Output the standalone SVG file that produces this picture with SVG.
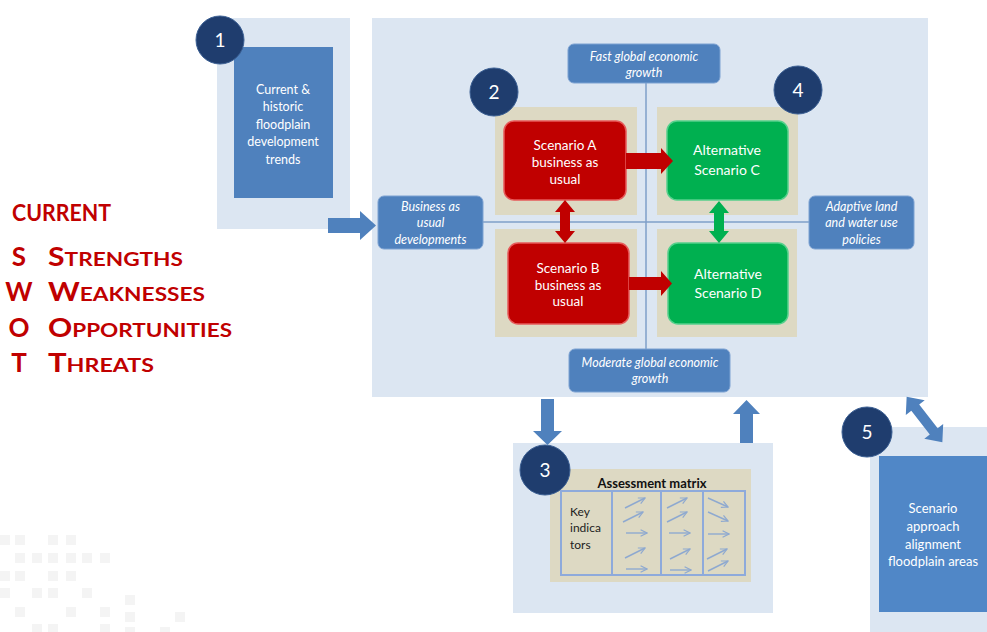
<svg xmlns="http://www.w3.org/2000/svg" width="987" height="632" viewBox="0 0 987 632">
<defs>
<style>
.panel{fill:#dce6f2}
.dark{fill:#4f81bd}
.lbl{fill:#4f81bd;stroke:#7da2d2;stroke-width:1}
.badge{fill:#1f3d6e;stroke:#3b5f93;stroke-width:1}
.beige{fill:#ddd9c3}
.red{fill:#c00000;stroke:#e65a5a;stroke-width:1.5}
.green{fill:#00b050;stroke:#55d08c;stroke-width:1.5}
.t{font-family:Lato,"Liberation Sans",sans-serif;fill:#ffffff;text-anchor:middle}
.it{font-style:italic;font-size:12.5px}
.num{font-size:19px}
.sw{font-family:Lato,"Liberation Sans",sans-serif;font-weight:bold;fill:#c00000}
.blk{fill:#4f81bd}
.ra{fill:#c00000}
.ga{fill:#00b050}
.axis{stroke:#7f9fc8;stroke-width:1.5;fill:none}
.grid{fill:none;stroke:#8eaadb;stroke-width:2}
.ma{fill:none;stroke:#8ea9d0;stroke-width:1.4;marker-end:url(#oh)}
.wm{fill:#f4f4f4}
</style>
<marker id="oh" viewBox="0 0 10 10" refX="9" refY="5" markerWidth="8" markerHeight="8" markerUnits="userSpaceOnUse" orient="auto">
<path d="M1,1 L9,5 L1,9" fill="none" stroke="#8ea9d0" stroke-width="1.5"/>
</marker>
</defs>
<rect width="987" height="632" fill="#ffffff"/>

<g id="watermark">
<rect class="wm" x="0" y="535" width="10" height="10"/><rect class="wm" x="15" y="535" width="10" height="10"/><rect class="wm" x="48" y="535" width="10" height="10"/><rect class="wm" x="66" y="535" width="10" height="10"/>
<rect class="wm" x="15" y="553" width="10" height="10"/><rect class="wm" x="32" y="553" width="10" height="10"/><rect class="wm" x="48" y="553" width="10" height="10"/><rect class="wm" x="66" y="553" width="10" height="10"/><rect class="wm" x="82" y="553" width="10" height="10"/><rect class="wm" x="100" y="553" width="10" height="10"/>
<rect class="wm" x="0" y="571" width="10" height="10"/><rect class="wm" x="15" y="571" width="10" height="10"/><rect class="wm" x="48" y="571" width="10" height="10"/><rect class="wm" x="66" y="571" width="10" height="10"/>
<rect class="wm" x="0" y="588" width="10" height="10"/><rect class="wm" x="32" y="588" width="10" height="10"/><rect class="wm" x="48" y="588" width="10" height="10"/><rect class="wm" x="82" y="588" width="10" height="10"/><rect class="wm" x="125" y="595" width="10" height="10"/>
<rect class="wm" x="15" y="607" width="10" height="10"/><rect class="wm" x="66" y="607" width="10" height="10"/><rect class="wm" x="100" y="607" width="10" height="10"/><rect class="wm" x="125" y="612" width="10" height="10"/><rect class="wm" x="175" y="612" width="10" height="10"/>
<rect class="wm" x="32" y="624" width="10" height="8"/><rect class="wm" x="48" y="624" width="10" height="8"/><rect class="wm" x="100" y="624" width="10" height="8"/><rect class="wm" x="125" y="627" width="10" height="5"/><rect class="wm" x="160" y="627" width="10" height="5"/>
</g>

<g id="swot">
<text class="sw" x="12" y="221" font-size="22" textLength="99" lengthAdjust="spacingAndGlyphs">CURRENT</text>
<text class="sw" x="19" y="266" font-size="26" text-anchor="middle">S</text>
<text class="sw" x="48" y="266" textLength="135" lengthAdjust="spacingAndGlyphs"><tspan font-size="26">S</tspan><tspan font-size="19.5">TRENGTHS</tspan></text>
<text class="sw" x="19" y="301" font-size="26" text-anchor="middle">W</text>
<text class="sw" x="48" y="301" textLength="157" lengthAdjust="spacingAndGlyphs"><tspan font-size="26">W</tspan><tspan font-size="19.5">EAKNESSES</tspan></text>
<text class="sw" x="19" y="337" font-size="26" text-anchor="middle">O</text>
<text class="sw" x="48" y="337" textLength="184" lengthAdjust="spacingAndGlyphs"><tspan font-size="26">O</tspan><tspan font-size="19.5">PPORTUNITIES</tspan></text>
<text class="sw" x="19" y="372" font-size="26" text-anchor="middle">T</text>
<text class="sw" x="48" y="372" textLength="106" lengthAdjust="spacingAndGlyphs"><tspan font-size="26">T</tspan><tspan font-size="19.5">HREATS</tspan></text>
</g>

<g id="box1">
<rect class="panel" x="217" y="18" width="133" height="211"/>
<rect class="dark" x="234" y="47" width="99" height="151"/>
<text class="t" font-size="12.5"><tspan x="283" y="93.5">Current &amp;</tspan><tspan x="283" y="111">historic</tspan><tspan x="283" y="128.5">floodplain</tspan><tspan x="283" y="146">development</tspan><tspan x="283" y="163.5">trends</tspan></text>
<circle class="badge" cx="220" cy="40" r="24"/>
<text class="t num" x="220" y="47">1</text>
</g>

<g id="main">
<rect class="panel" x="372" y="18" width="556" height="379"/>
</g>

<g id="axes">
<line class="axis" x1="646" y1="83" x2="646" y2="349"/>
<line class="axis" x1="483" y1="222" x2="809" y2="222"/>
</g>

<g id="quadrants">
<rect class="beige" x="495" y="107" width="142" height="108"/>
<rect class="beige" x="657" y="107" width="141" height="108"/>
<rect class="beige" x="495" y="229" width="142" height="108"/>
<rect class="beige" x="657" y="229" width="140" height="108"/>
</g>

<g id="label-fast">
<rect class="lbl" x="568" y="44" width="152" height="39" rx="6"/>
<text class="t it"><tspan x="644" y="61">Fast global economic</tspan><tspan x="644" y="77">growth</tspan></text>
</g>
<g id="label-bau">
<rect class="lbl" x="378" y="196" width="105" height="53" rx="6"/>
<text class="t it"><tspan x="430.5" y="211">Business as</tspan><tspan x="430.5" y="227">usual</tspan><tspan x="430.5" y="244">developments</tspan></text>
</g>
<g id="label-adaptive">
<rect class="lbl" x="809" y="196" width="105" height="53" rx="6"/>
<text class="t it"><tspan x="861.5" y="211">Adaptive land</tspan><tspan x="861.5" y="227">and water use</tspan><tspan x="861.5" y="244">policies</tspan></text>
</g>
<g id="label-moderate">
<rect class="lbl" x="569" y="349" width="161" height="43" rx="6"/>
<text class="t it"><tspan x="650" y="367">Moderate global economic</tspan><tspan x="650" y="383">growth</tspan></text>
</g>

<g id="scenarioA">
<rect class="red" x="504" y="121" width="122" height="79" rx="10"/>
<text class="t" font-size="13.5"><tspan x="565" y="150">Scenario A</tspan><tspan x="565" y="167">business as</tspan><tspan x="565" y="184">usual</tspan></text>
</g>
<g id="scenarioC">
<rect class="green" x="667" y="121" width="121" height="79" rx="10"/>
<text class="t" font-size="14"><tspan x="727" y="155">Alternative</tspan><tspan x="727" y="175">Scenario C</tspan></text>
</g>
<g id="scenarioB">
<rect class="red" x="508" y="243" width="121" height="81" rx="10"/>
<text class="t" font-size="13.5"><tspan x="568" y="273">Scenario B</tspan><tspan x="568" y="290">business as</tspan><tspan x="568" y="306">usual</tspan></text>
</g>
<g id="scenarioD">
<rect class="green" x="668" y="243" width="120" height="81" rx="10"/>
<text class="t" font-size="14"><tspan x="728" y="279">Alternative</tspan><tspan x="728" y="298">Scenario D</tspan></text>
</g>
<g id="badge2">
<circle class="badge" cx="494" cy="92" r="24"/>
<text class="t num" x="494" y="99">2</text>
</g>
<g id="badge4">
<circle class="badge" cx="798" cy="90" r="24"/>
<text class="t num" x="798" y="97">4</text>
</g>

<g id="box3">
<rect class="panel" x="513" y="443" width="260" height="170"/>
<rect class="beige" x="550" y="469" width="201" height="113"/>
<text x="652" y="488" font-family="Lato,'Liberation Sans',sans-serif" font-weight="bold" font-size="13" fill="#111" text-anchor="middle">Assessment matrix</text>
<rect class="grid" x="561" y="491" width="184" height="84"/>
<line class="grid" x1="612" y1="491" x2="612" y2="575"/>
<line class="grid" x1="661" y1="491" x2="661" y2="575"/>
<line class="grid" x1="703" y1="491" x2="703" y2="575"/>
<text font-family="Lato,'Liberation Sans',sans-serif" font-size="12" fill="#222"><tspan x="570" y="516">Key</tspan><tspan x="570" y="532">indica</tspan><tspan x="570" y="549">tors</tspan></text>
<path class="ma" d="M625,508 L645,498"/>
<path class="ma" d="M623,522 L643,512"/>
<path class="ma" d="M626,533 L647,533"/>
<path class="ma" d="M625,558 L645,548"/>
<path class="ma" d="M626,569 L647,569"/>
<path class="ma" d="M667,508 L687,498"/>
<path class="ma" d="M667,522 L687,512"/>
<path class="ma" d="M669,533 L690,533"/>
<path class="ma" d="M670,559 L690,549"/>
<path class="ma" d="M670,570 L691,570"/>
<path class="ma" d="M708,498 L728,507"/>
<path class="ma" d="M708,512 L728,521"/>
<path class="ma" d="M708,534 L729,534"/>
<path class="ma" d="M707,559 L727,549"/>
<path class="ma" d="M708,571 L728,561"/>
<circle class="badge" cx="545" cy="470" r="25"/>
<text class="t num" x="545" y="477">3</text>
</g>

<g id="box5">
<rect class="panel" x="870" y="427" width="117" height="205"/>
<rect x="879" y="456" width="108" height="156" fill="#5087c7"/>
<text class="t" font-size="13"><tspan x="933" y="513">Scenario</tspan><tspan x="933" y="531">approach</tspan><tspan x="933" y="549">alignment</tspan><tspan x="933" y="566">floodplain areas</tspan></text>
<circle class="badge" cx="867" cy="432" r="25"/>
<text class="t num" x="867" y="439">5</text>
</g>

<g id="connectors">
<polygon class="blk" points="328,218 360,218 360,211 376,225.5 360,240 360,233 328,233"/>
<polygon class="blk" points="541,399 554,399 554,431 562,431 547.5,445 533,431 541,431"/>
<polygon class="blk" points="740,443 753,443 753,414 760,414 746.5,400 733,414 740,414"/>
<polygon class="blk" transform="translate(924.5,419.5) rotate(52)" points="-29,0 -15,-12 -15,-5 15,-5 15,-12 29,0 15,12 15,5 -15,5 -15,12"/>
<polygon class="ra" points="626,153 661,153 661,148 673,161 661,174 661,169 626,169"/>
<polygon class="ra" points="629,277 661,277 661,271 672,283.5 661,296 661,290 629,290"/>
<polygon class="ra" points="565,200 575,212 570,212 570,231 575,231 565,243 555,231 560,231 560,212 555,212"/>
<polygon class="ga" points="719,201 729,213 724,213 724,231 729,231 719,243 709,231 714,231 714,213 709,213"/>
</g>
</svg>
